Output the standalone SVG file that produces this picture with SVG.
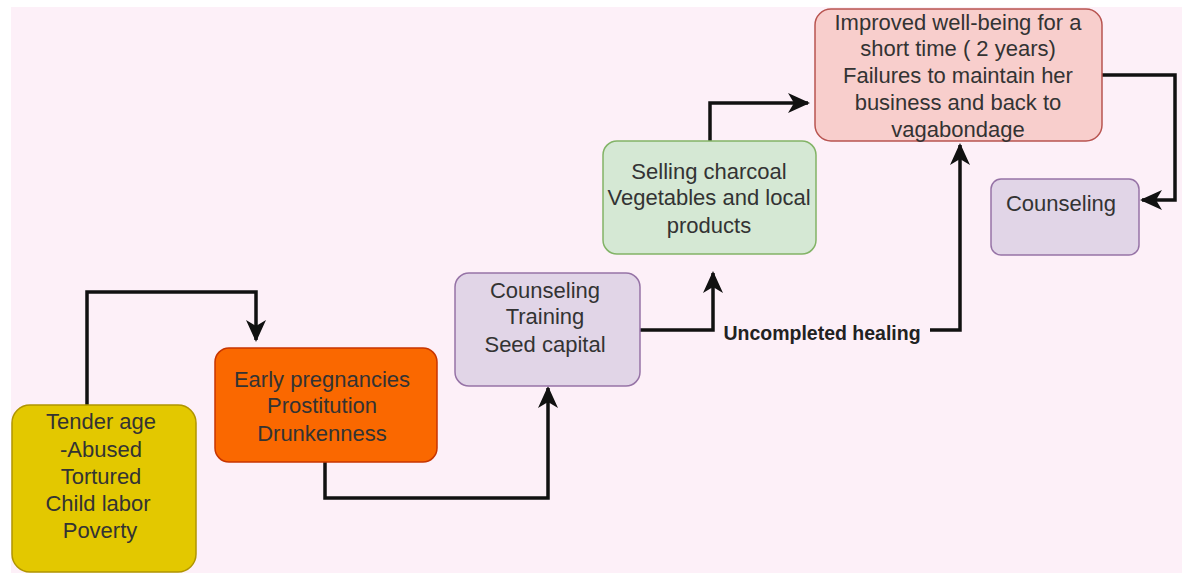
<svg xmlns="http://www.w3.org/2000/svg" width="1182" height="573" viewBox="0 0 1182 573">
  <defs>
    <style>
      .node rect { stroke-width: 1.5; }
      .node text { font-family: "Liberation Sans", Arial, sans-serif; font-size: 22px; fill: #333333; text-anchor: middle; dominant-baseline: central; }
      .edge { fill: none; stroke: #111111; stroke-width: 3.5; stroke-linejoin: miter; }
      .label { font-family: "Liberation Sans", Arial, sans-serif; font-size: 19.5px; font-weight: bold; fill: #222222; text-anchor: middle; dominant-baseline: central; }
    </style>
    <marker id="arrow" viewBox="0 0 22 22" refX="20" refY="11" markerWidth="22" markerHeight="22" markerUnits="userSpaceOnUse" orient="auto">
      <path d="M0,1 L22,11 L0,21 L6,11 z" fill="#111111"/>
    </marker>
  </defs>

  <!-- canvas -->
  <rect x="0" y="0" width="1182" height="573" fill="#ffffff"/>
  <rect x="11" y="7" width="1171" height="566" fill="#fdf0f8"/>

  <!-- connectors -->
  <g id="connectors">
    <path class="edge" d="M87,405 V292 H256 V340" marker-end="url(#arrow)"/>
    <path class="edge" d="M325,462 V498 H548 V388" marker-end="url(#arrow)"/>
    <path class="edge" d="M640,330 H713 V273" marker-end="url(#arrow)"/>
    <path class="edge" d="M930,330 H960 V145" marker-end="url(#arrow)"/>
    <path class="edge" d="M710,141 V103 H808" marker-end="url(#arrow)"/>
    <path class="edge" d="M1102,75 H1175 V200 H1142" marker-end="url(#arrow)"/>
    <text class="label" x="822" y="333">Uncompleted healing</text>
  </g>

  <g id="node-tender-age" class="node">
    <rect x="12" y="405" width="184" height="167" rx="18" fill="#e3c800" stroke="#b09500"/>
    <text x="101" y="421">Tender age</text>
    <text x="101" y="449">-Abused</text>
    <text x="101" y="476">Tortured</text>
    <text x="98" y="503">Child labor</text>
    <text x="100" y="530">Poverty</text>
  </g>

  <g id="node-early-pregnancies" class="node">
    <rect x="215" y="348" width="222" height="114" rx="14" fill="#fa6800" stroke="#c73500"/>
    <text x="322" y="379">Early pregnancies</text>
    <text x="322" y="405">Prostitution</text>
    <text x="322" y="433">Drunkenness</text>
  </g>

  <g id="node-counseling-training" class="node">
    <rect x="455" y="273" width="185" height="113" rx="14" fill="#e1d5e7" stroke="#9673a6"/>
    <text x="545" y="290">Counseling</text>
    <text x="545" y="316">Training</text>
    <text x="545" y="344">Seed capital</text>
  </g>

  <g id="node-selling" class="node">
    <rect x="603" y="141" width="213" height="113" rx="14" fill="#d5e8d4" stroke="#82b366"/>
    <text x="709" y="171">Selling charcoal</text>
    <text x="709" y="197">Vegetables and local</text>
    <text x="709" y="225">products</text>
  </g>

  <g id="node-improved" class="node">
    <rect x="815" y="9" width="287" height="132" rx="16" fill="#f8cecc" stroke="#b85450"/>
    <text x="958" y="22">Improved well-being for a</text>
    <text x="958" y="48">short time ( 2 years)</text>
    <text x="958" y="75">Failures to maintain her</text>
    <text x="958" y="102">business and back to</text>
    <text x="958" y="129">vagabondage</text>
  </g>

  <g id="node-counseling" class="node">
    <rect x="991" y="179" width="148" height="76" rx="10" fill="#e1d5e7" stroke="#9673a6"/>
    <text x="1061" y="203">Counseling</text>
  </g>
</svg>
